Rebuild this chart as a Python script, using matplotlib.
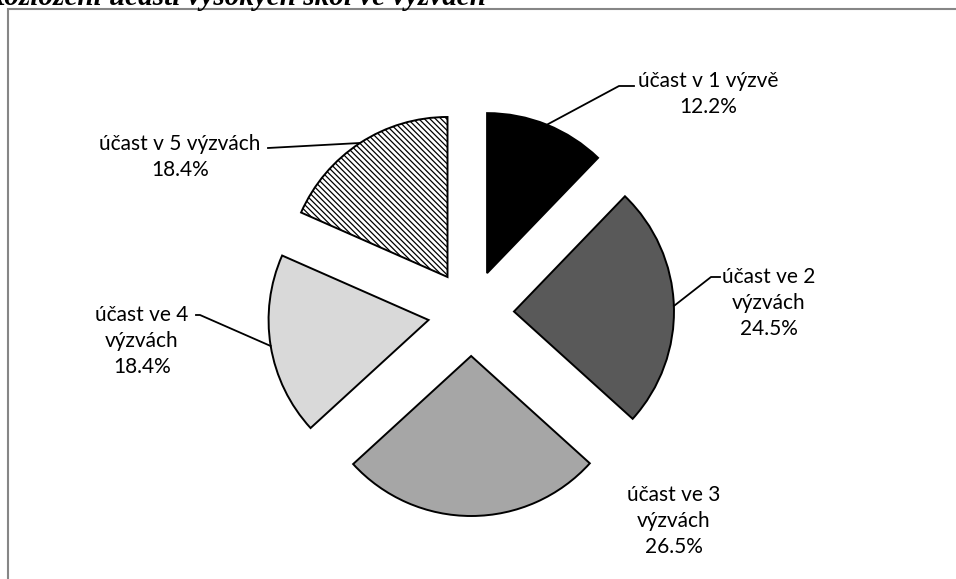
import matplotlib.pyplot as plt
from matplotlib.patches import Rectangle
import numpy as np

# data
labels = ['účast v 1 výzvě', 'účast ve 2\nvýzvách', 'účast ve 3\nvýzvách',
          'účast ve 4\nvýzvách', 'účast v 5 výzvách']
shares = [12.2, 24.5, 26.5, 18.4, 18.4]
colors = ['#000000', '#595959', '#a6a6a6', '#d9d9d9', '#ffffff']
title = 'Rozložení účasti vysokých škol ve výzvách'

plt.rcParams['hatch.color'] = '#303030'
plt.rcParams['hatch.linewidth'] = 0.9

W, H = 956, 579
fig = plt.figure(figsize=(W / 100, H / 100), dpi=100)
ax = fig.add_axes([0, 0, 1, 1])

# chart frame (runs off the right and bottom edge)
ax.add_patch(Rectangle((8, -20), W + 20, H - 9 + 20, fill=False,
                       edgecolor='#868686', linewidth=1.5))

# title, clipped at the top like in the source
ax.text(486, H - 5, title, ha='right', va='baseline', fontsize=21,
        family='Liberation Serif', fontweight='bold', style='italic')

wedges, _ = ax.pie(shares, colors=colors, startangle=90, counterclock=False,
                   radius=160, center=(471, H - 313), explode=[43] * 5,
                   wedgeprops=dict(edgecolor='black', linewidth=1.4),
                   frame=True)
wedges[4].set_hatch('\\\\\\\\\\\\')
ax.set_xlim(0, W)
ax.set_ylim(0, H)
ax.set_aspect('equal')
ax.axis('off')


def arc_mid(w):
    a = np.deg2rad((w.theta1 + w.theta2) / 2)
    return w.center[0] + w.r * np.cos(a), w.center[1] + w.r * np.sin(a)


# label text positions and leader line points (pixels from top-left)
text_pos = [(708, 94), (769, 303), (674, 521), (142, 341), (180, 157)]
leaders = [[(619, 86), (634, 86)],
           [(711, 277), (720, 277)],
           None,
           [(200, 315), (196, 315)],
           [(268, 148)]]

for i, w in enumerate(wedges):
    lab = f'{labels[i]}\n{shares[i]:.1f}%'
    tx, ty = text_pos[i]
    ax.text(tx, H - ty, lab, ha='center', va='center', fontsize=15,
            family='Lato', linespacing=1.4, color='black')
    if leaders[i]:
        mx, my = arc_mid(w)
        xs = [mx] + [p[0] for p in leaders[i]]
        ys = [my] + [H - p[1] for p in leaders[i]]
        ax.plot(xs, ys, color='black', linewidth=1.3)

fig.savefig('out.png', dpi=100)
